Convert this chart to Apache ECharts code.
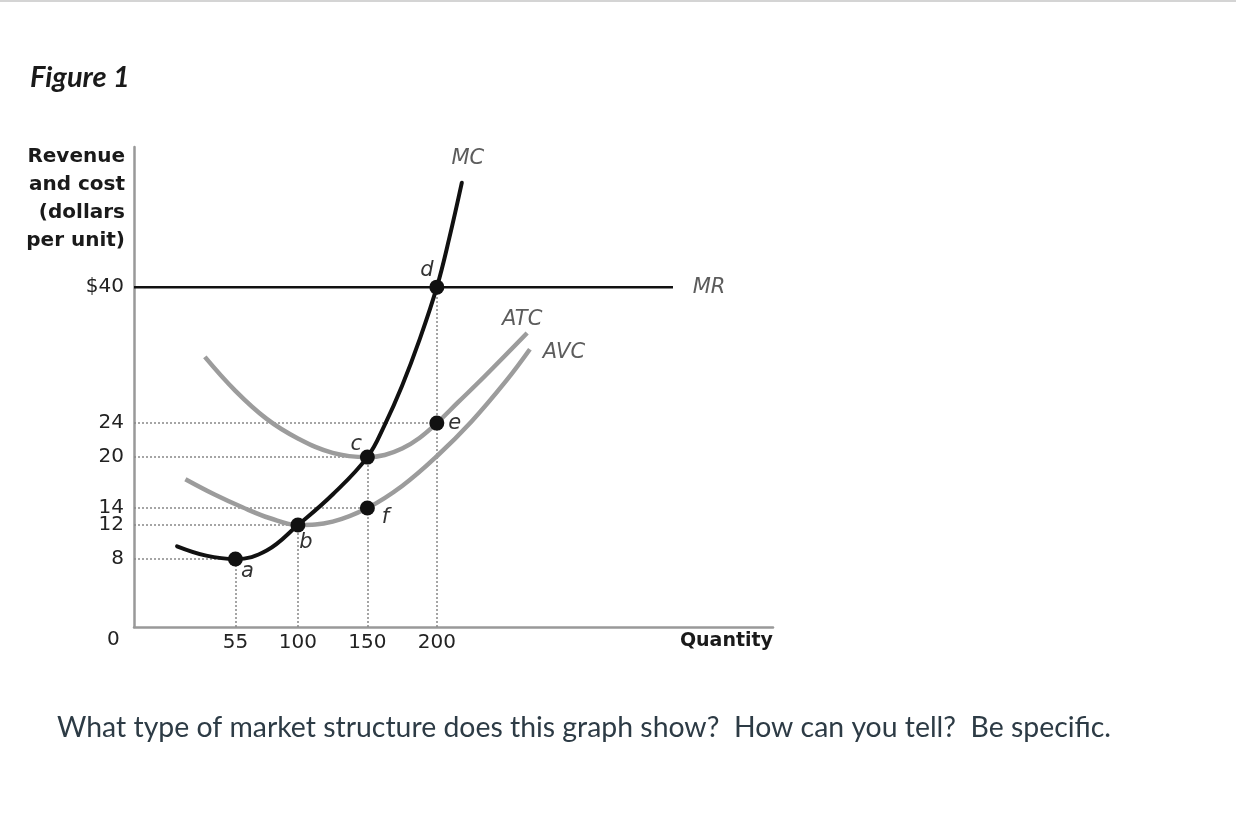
<!DOCTYPE html>
<html>
<head>
<meta charset="utf-8">
<script src="https://cdn.jsdelivr.net/npm/echarts@6/dist/echarts.min.js"></script>
<style>
html,body{margin:0;padding:0;background:#fff;}
#c{width:1236px;height:826px;}
</style>
</head>
<body>
<div id="c"></div>
<script>
// ---- data ----
const xTicks = [55, 100, 150, 200];
const yTicks = [8, 12, 14, 20, 24, 40];
const xMin = -18, xMax = 442, yMax = 56.5;

const mcQ = [13, 34, 55, 77.5, 100, 125, 150, 162.5, 175, 187.5, 200, 209, 218];
const mcP = [9.5, 8.4, 8, 9.0, 12, 15.6, 20, 23.8, 28.4, 33.8, 40, 45.8, 52.3];

const atcQ = [33, 55, 77.5, 100, 125, 150, 162.5, 175, 187.5, 200, 215, 235, 265];
const atcP = [31.8, 27.8, 24.5, 22.2, 20.5, 20, 20.25, 21.0, 22.25, 24, 26.4, 29.6, 34.6];

const avcQ = [19, 40, 60, 80, 100, 125, 150, 175, 200, 225, 250, 267];
const avcP = [17.4, 15.6, 14.1, 12.8, 12, 12.4, 14, 16.6, 20.1, 24.2, 29.0, 32.7];

const mrQ = [xMin, 370];
const mrP = [40, 40];

const pointNames = ['a', 'b', 'c', 'd', 'e', 'f'];
const pointQ = [55, 100, 150, 200, 200, 150];
const pointP = [8, 12, 20, 40, 24, 14];

// ---- build ----
const zip = (q, p) => q.map((v, i) => [v, p[i]]);
const font = '"DejaVu Sans", sans-serif';
const txt = '#222';

// dotted guide lines
const guides = [];
xTicks.forEach(q => {
  let top = 0;
  pointQ.forEach((pq, i) => { if (pq === q) top = Math.max(top, pointP[i]); });
  guides.push({ coords: [[q, 0], [q, top]] });
});
yTicks.forEach(p => {
  if (p === mrP[0]) return;
  let right = xMin;
  pointP.forEach((pp, i) => { if (pp === p) right = Math.max(right, pointQ[i]); });
  guides.push({ coords: [[xMin, p], [right, p]] });
});

const pointOffsets = { a: [12, 13], b: [8, 17], c: [-11, -13], d: [-10, -17], e: [18, 0], f: [18, 9] };
const curves = [
  { name: 'MC', q: mcQ, p: mcP, off: [6, -24] },
  { name: 'ATC', q: atcQ, p: atcP, off: [-5, -14] },
  { name: 'AVC', q: avcQ, p: avcP, off: [34, 3] },
  { name: 'MR', q: mrQ, p: mrP, off: [36, 0] }
];

const chart = echarts.init(document.getElementById('c'), null, { renderer: 'canvas' });
const option = {
  animation: false,
  backgroundColor: '#fff',
  title: [
    { text: 'Figure 1', left: 30, top: 61, padding: 0,
      textStyle: { fontFamily: 'Lato', fontStyle: 'italic', fontWeight: 'bold', fontSize: 29, lineHeight: 34, color: '#1a1a1a' } },
    { text: 'What type of market structure does this graph show?  How can you tell?  Be specific.', left: 57, top: 712, padding: 0,
      textStyle: { fontFamily: 'Lato', fontWeight: 'normal', fontSize: 28.4, lineHeight: 32, color: '#2d3b45' } }
  ],
  graphic: [
    { type: 'rect', left: 0, top: 0, shape: { width: 1236, height: 2 }, style: { fill: '#d4d4d4' }, silent: true },
    { type: 'text', left: 107, top: 630, style: { text: '0', font: '20px "DejaVu Sans"', fill: txt } }
  ],
  grid: { left: 134, top: 147, right: 463, bottom: 199, outerBoundsMode: 'none', containLabel: false },
  xAxis: {
    type: 'value', min: xMin, max: xMax,
    splitLine: { show: false }, axisTick: { show: false },
    axisLine: { onZero: false, lineStyle: { color: '#999', width: 2.5 } },
    axisLabel: { customValues: xTicks, fontFamily: font, fontSize: 20, color: txt, margin: 6 },
    name: 'Quantity', nameLocation: 'end', nameGap: 0, nameMoveOverlap: false,
    nameTextStyle: { align: 'right', verticalAlign: 'top', padding: [5, 0, 0, 0], fontFamily: font, fontWeight: 'bold', fontSize: 19, color: '#1a1a1a' }
  },
  yAxis: {
    type: 'value', min: 0, max: yMax,
    splitLine: { show: false }, axisTick: { show: false },
    axisLine: { onZero: false, lineStyle: { color: '#999', width: 2.5 } },
    axisLabel: { customValues: yTicks, formatter: v => (v === 40 ? '$' + v : String(v)),
      fontFamily: font, fontSize: 20, lineHeight: 16, color: txt, margin: 10 },
    name: 'Revenue\nand cost\n(dollars\nper unit)', nameLocation: 'end', nameGap: 4, nameMoveOverlap: false,
    nameTextStyle: { align: 'right', verticalAlign: 'top', padding: [0, 9, 0, 0], lineHeight: 28,
      fontFamily: font, fontWeight: 'bold', fontSize: 20, color: '#1a1a1a' }
  },
  series: [
    { type: 'lines', coordinateSystem: 'cartesian2d', data: guides, silent: true, z: 1,
      lineStyle: { color: '#888', width: 1.5, type: [2, 2], opacity: 1 } },
    { name: 'MR', type: 'line', data: zip(mrQ, mrP), showSymbol: false, z: 2,
      lineStyle: { color: '#111', width: 2.5 } },
    { name: 'ATC', type: 'line', data: zip(atcQ, atcP), showSymbol: false, smooth: 0.4, z: 3,
      lineStyle: { color: '#9c9c9c', width: 4.5, cap: 'butt' } },
    { name: 'AVC', type: 'line', data: zip(avcQ, avcP), showSymbol: false, smooth: 0.4, z: 3,
      lineStyle: { color: '#9c9c9c', width: 4.5, cap: 'butt' } },
    { name: 'MC', type: 'line', data: zip(mcQ, mcP), showSymbol: false, smooth: 0.4, z: 4,
      lineStyle: { color: '#111', width: 4, cap: 'round' } },
    { name: 'points', type: 'scatter', symbolSize: 15, z: 5,
      itemStyle: { color: '#111', opacity: 1 },
      data: pointNames.map((n, i) => ({
        name: n, value: [pointQ[i], pointP[i]],
        label: { show: true, position: 'inside', offset: pointOffsets[n], formatter: n,
          fontFamily: font, fontStyle: 'italic', fontSize: 21, color: '#333' }
      })) },
    { name: 'curveLabels', type: 'scatter', symbolSize: 0.1, z: 5, silent: true,
      itemStyle: { color: 'rgba(0,0,0,0)' },
      data: curves.map(c => ({
        name: c.name, value: [c.q[c.q.length - 1], c.p[c.p.length - 1]],
        label: { show: true, position: 'inside', offset: c.off, formatter: c.name,
          fontFamily: font, fontStyle: 'italic', fontSize: 21, color: '#333' }
      })) }
  ]
};
chart.setOption(option);
</script>
</body>
</html>
